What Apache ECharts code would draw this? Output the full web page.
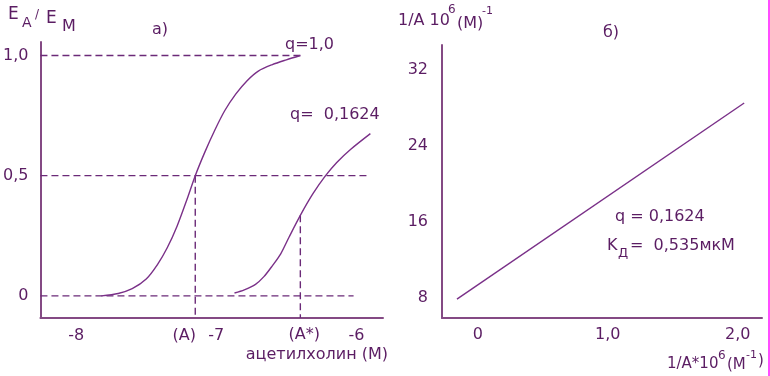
<!DOCTYPE html>
<html>
<head>
<meta charset="utf-8">
<title>Ацетилхолин: кривые доза-эффект</title>
<script src="https://cdn.jsdelivr.net/npm/echarts@6.0.0/dist/echarts.min.js"></script>
<style>
  html, body { margin: 0; padding: 0; background: #fff; }
  #main { width: 770px; height: 376px; }
</style>
</head>
<body>
<div id="main"></div>
<script>
// а) кривые доза-эффект, по оси x - lg концентрации ацетилхолина (М)
const agonistX = [-7.82, -7.70, -7.60, -7.50, -7.42, -7.35, -7.28, -7.21, -7.15, -7.08, -7.01, -6.94, -6.86, -6.78, -6.70, -6.60, -6.50, -6.40]
const agonistY = [0, 0.01, 0.03, 0.07, 0.13, 0.2, 0.29, 0.4, 0.5, 0.6, 0.69, 0.77, 0.84, 0.895, 0.935, 0.962, 0.982, 1.0]

const blockedX = [-6.87, -6.80, -6.72, -6.66, -6.60, -6.54, -6.48, -6.40, -6.31, -6.22, -6.14, -6.04, -5.90]
const blockedY = [0.012, 0.025, 0.048, 0.08, 0.125, 0.175, 0.245, 0.335, 0.425, 0.5, 0.555, 0.61, 0.675]

// пунктирные уровни 0 / 0,5 / 1,0 и где они кончаются
const levelY = [0, 0.5, 1.0]
const levelEndX = [-6.02, -5.915, -6.40]

// (A) и (A*)
const markX = [-7.15, -6.40]
const markTopY = [0.5, 0.335]
const markNames = ['(A)', '(A*)']

const leftTicksX = [-8, -7, -6]
const leftTicksY = [0, 0.5, 1.0]

// б) двойные обратные координаты
const recipX = [-0.16, 2.05]
const recipY = [7.86, 28.55]
const rightTicksX = [0, 1, 2]
const rightTicksY = [8, 16, 24, 32]

const leftMin = { x: -8.255, y: -0.092 }
const leftMax = { x: -5.81, y: 1.056 }

const textColor = '#5b1d63'
const axisColor = '#844a84'
const curveColor = '#7a3088'
const dashColor = '#6b2a78'
const FONT = '"DejaVu Sans", sans-serif'

const comma = (v) => (v === 0 ? '0' : v.toFixed(1).replace('.', ','))

const chart = echarts.init(document.getElementById('main'))

const baseAxis = {
  splitLine: { show: false },
  axisTick: { show: false },
  axisLine: { onZero: false, lineStyle: { color: axisColor, width: 2 } },
}

const dashed = (data, gridIdx) => ({
  type: 'line',
  xAxisIndex: gridIdx,
  yAxisIndex: gridIdx,
  data,
  symbol: 'none',
  silent: true,
  lineStyle: { color: dashColor, width: 1.4, type: [7, 4] },
})

const curve = (xs, ys, gridIdx) => ({
  type: 'line',
  xAxisIndex: gridIdx,
  yAxisIndex: gridIdx,
  data: xs.map((x, i) => [x, ys[i]]),
  smooth: 0.3,
  symbol: 'none',
  silent: true,
  lineStyle: { color: curveColor, width: 1.4 },
})

const series = []

// горизонтальные пунктиры
levelY.forEach((y, i) => {
  series.push(dashed([[leftMin.x, y], [levelEndX[i], y]], 0))
})
// вертикальные пунктиры до оси
markX.forEach((x, i) => {
  series.push(dashed([[x, markTopY[i]], [x, leftMin.y]], 0))
})

series.push(curve(agonistX, agonistY, 0))
series.push(curve(blockedX, blockedY, 0))

// подписи (A), (A*) под осью
series.push({
  type: 'scatter',
  xAxisIndex: 0,
  yAxisIndex: 0,
  symbolSize: 0,
  silent: true,
  itemStyle: { opacity: 1 },
  data: markX.map((x, i) => ({
    value: [x, leftMin.y],
    name: markNames[i],
    label: { offset: i === 0 ? [-11, 0] : [4, -1] },
  })),
  label: {
    show: true,
    position: 'bottom',
    distance: 10,
    formatter: (p) => p.name,
    color: textColor,
    fontFamily: FONT,
    fontSize: 16,
  },
})

series.push(curve(recipX, recipY, 1))

const txt = (text, x, y, size, align) => ({
  type: 'text',
  x,
  y,
  silent: true,
  style: {
    text,
    font: size + 'px ' + FONT,
    fill: textColor,
    textAlign: align || 'left',
    align: align || 'left',
    textVerticalAlign: 'middle',
    verticalAlign: 'middle',
  },
})

const option = {
  animation: false,
  backgroundColor: '#fff',
  grid: [
    { left: 38, top: 42, width: 345, height: 276 },
    { left: 442, top: 45, width: 320, height: 273 },
  ],
  xAxis: [
    {
      ...baseAxis,
      type: 'value',
      gridIndex: 0,
      min: leftMin.x,
      max: leftMax.x,
      axisLabel: {
        customValues: leftTicksX,
        margin: 10,
        color: textColor,
        fontFamily: FONT,
        fontSize: 16,
      },
    },
    {
      ...baseAxis,
      type: 'value',
      gridIndex: 1,
      min: -0.275,
      max: 2.187,
      axisLabel: {
        customValues: rightTicksX,
        formatter: comma,
        margin: 9,
        color: textColor,
        fontFamily: FONT,
        fontSize: 16,
      },
    },
  ],
  yAxis: [
    {
      ...baseAxis,
      type: 'value',
      gridIndex: 0,
      min: leftMin.y,
      max: leftMax.y,
      axisLabel: {
        customValues: leftTicksY,
        formatter: comma,
        margin: 12,
        color: textColor,
        fontFamily: FONT,
        fontSize: 16,
      },
    },
    {
      ...baseAxis,
      type: 'value',
      gridIndex: 1,
      min: 5.86,
      max: 34.67,
      axisLabel: {
        customValues: rightTicksY,
        margin: 14,
        color: textColor,
        fontFamily: FONT,
        fontSize: 16,
      },
    },
  ],
  series,
  graphic: [
    // Е_А / Е_М
    txt('Е', 8, 15, 17),
    txt('А', 22, 23, 14),
    txt('/', 35, 15, 12),
    txt('Е', 46, 19, 17),
    txt('М', 62, 27, 16),
    txt('а)', 152, 30, 16),
    txt('q=1,0', 285, 45, 16),
    txt('q=  0,1624', 290, 115, 16),
    txt('ацетилхолин (М)', 388, 355, 16, 'right'),

    // 1/A 10^6 (M)^-1
    txt('1/A 10', 398, 21, 16),
    txt('6', 448, 10, 12),
    txt('(M)', 457, 24, 16),
    txt('-1', 482, 11, 11),
    txt('б)', 603, 33, 16),
    txt('q = 0,1624', 615, 217, 16),
    txt('K', 607, 246, 16),
    txt('Д', 618, 254, 13),
    txt('=  0,535мкМ', 630, 246, 16),

    // 1/A *10^6 (M^-1)
    txt('1/A*10', 667, 364, 15),
    txt('6', 718, 356, 12),
    txt('(M', 727, 365, 15),
    txt('-1', 746, 355, 11),
    txt(')', 758, 361, 15),

    {
      type: 'line',
      silent: true,
      shape: { x1: 769, y1: 0, x2: 769, y2: 376 },
      style: { stroke: '#ff4dff', lineWidth: 2 },
    },
  ],
}

chart.setOption(option)
</script>
</body>
</html>
